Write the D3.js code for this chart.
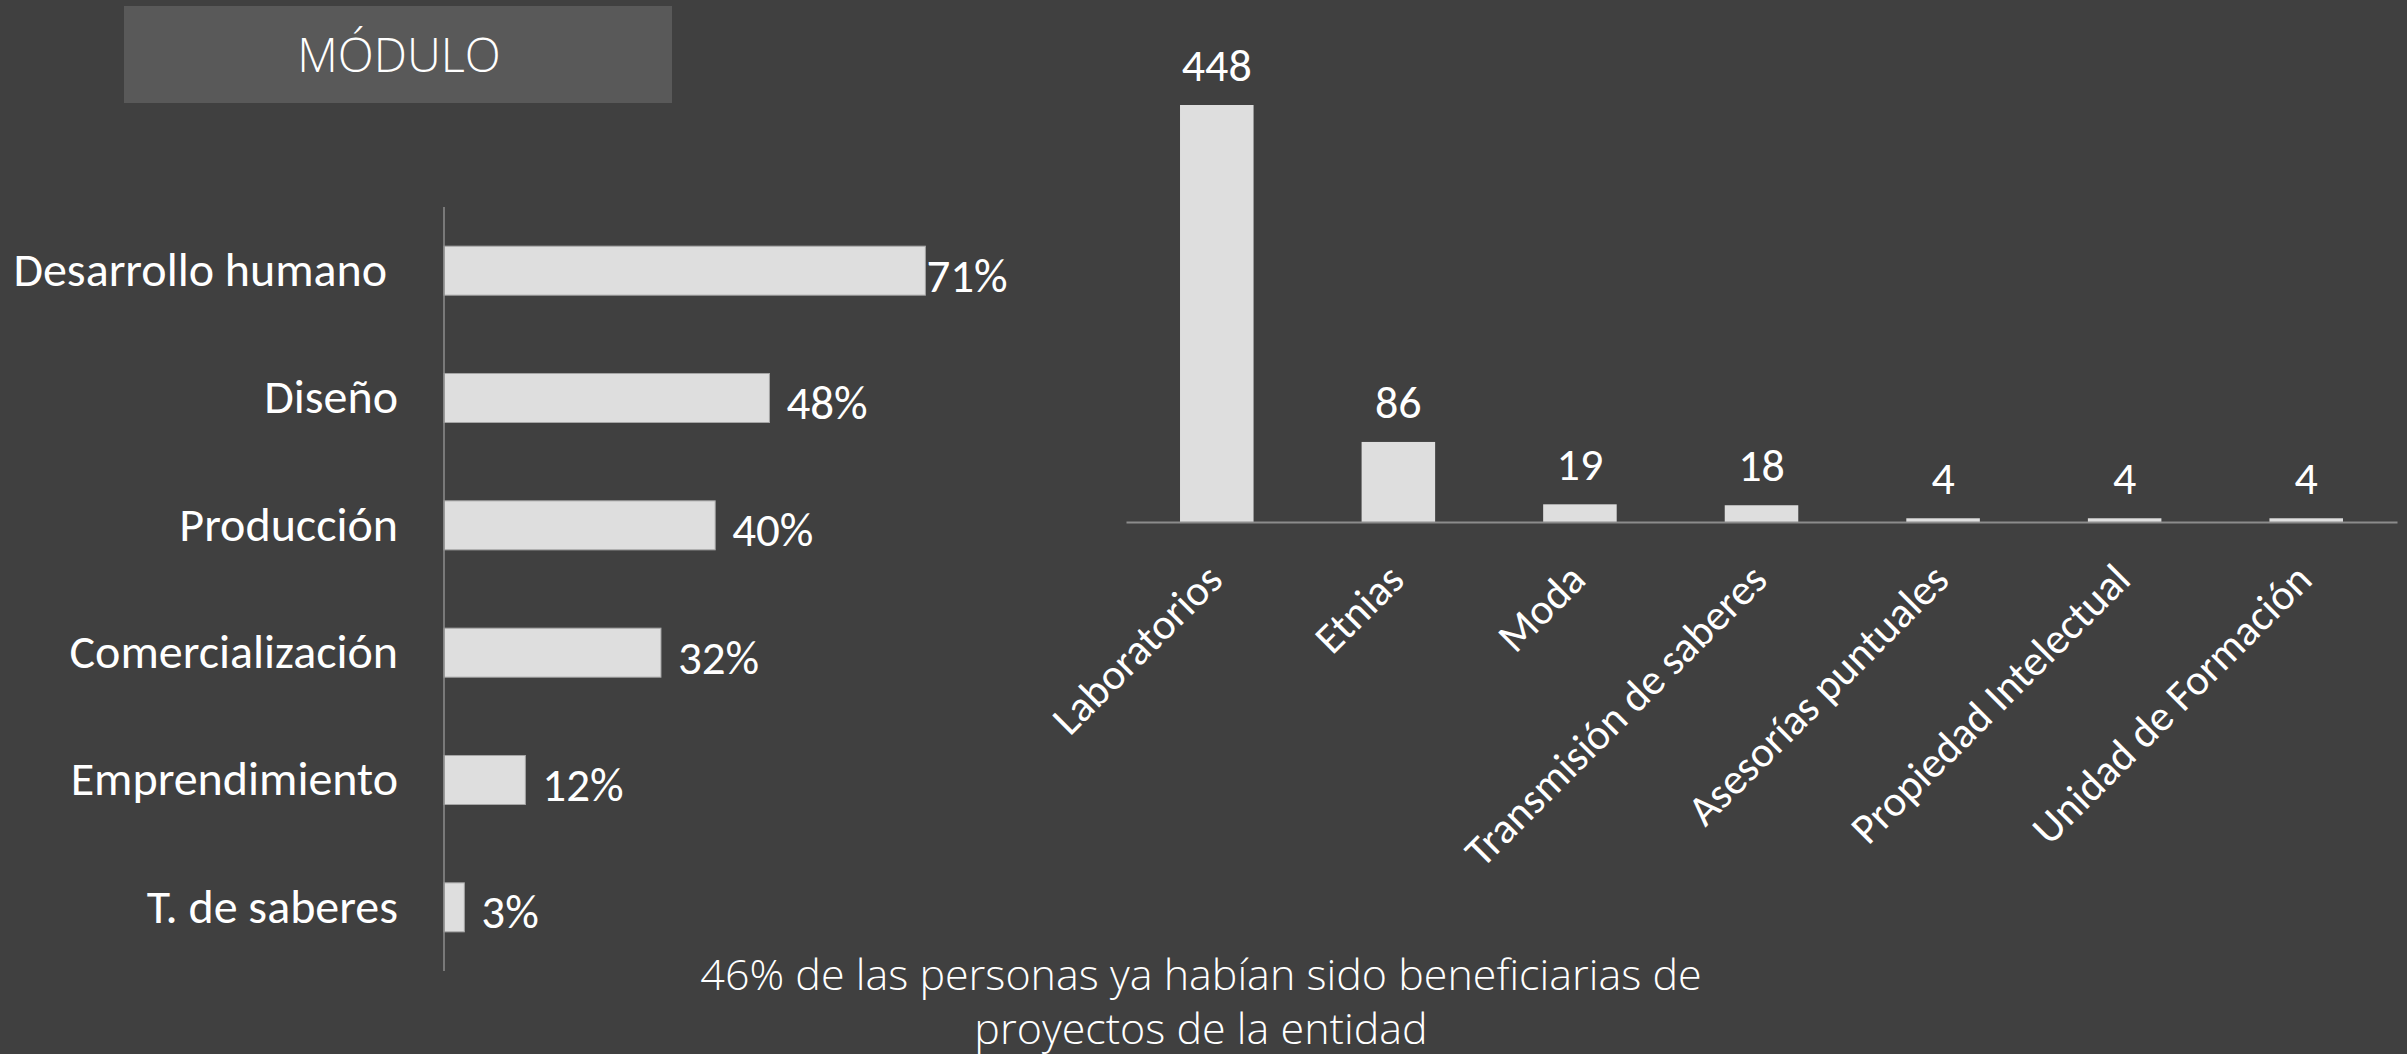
<!DOCTYPE html>
<html><head><meta charset="utf-8">
<script src="https://cdn.jsdelivr.net/npm/d3@7"></script>
<style>
html,body{margin:0;padding:0;background:#404040;}
svg{display:block;}
text{font-family:Carlito,Lato,"Open Sans",sans-serif;fill:#ffffff;}
text.light{font-family:"Open Sans",Lato,sans-serif;font-weight:300;}
</style></head>
<body>
<svg id="c" width="2407" height="1054"></svg>
<script>
const moduleCats = ["Desarrollo humano\u00a0", "Diseño", "Producción", "Comercialización", "Emprendimiento", "T. de saberes"];
const moduleVals = [0.71, 0.48, 0.40, 0.32, 0.12, 0.03];
const moduleLabels = ["71%", "48%", "40%", "32%", "12%", "3%"];

const typeCats = ["Laboratorios", "Etnias", "Moda", "Transmisión de saberes", "Asesorías puntuales", "Propiedad Intelectual", "Unidad de Formación"];
const typeVals = [448, 86, 19, 18, 4, 4, 4];

const titleText = "MÓDULO";
const noteLines = ["46% de las personas ya habían sido beneficiarias de", "proyectos de la entidad"];

const svg = d3.select("#c");
svg.append("rect").attr("width", 2407).attr("height", 1054).attr("fill", "#404040");

// Title box
svg.append("rect").attr("x", 124).attr("y", 6).attr("width", 548).attr("height", 97).attr("fill", "#595959");
svg.append("text").attr("class", "light").attr("x", 399).attr("y", 55).attr("dy", "0.36em")
  .attr("text-anchor", "middle").style("font-size", "47px")
  .text(titleText);

// Left horizontal bar chart
const xL = d3.scaleLinear().domain([0, 1]).range([444, 444 + 678]);
const yL = d3.scaleBand().domain(moduleCats).range([207, 971]).paddingInner(0.615).paddingOuter(0.3075);

const gL = svg.append("g");
gL.selectAll("rect.bar").data(moduleCats).join("rect")
  .attr("class", "bar")
  .attr("x", xL(0)).attr("y", d => yL(d))
  .attr("width", (d, i) => xL(moduleVals[i]) - xL(0))
  .attr("height", yL.bandwidth())
  .attr("fill", "#dedede").attr("stroke", "#a6a6a6").attr("stroke-width", 1);

const axL = d3.axisLeft(yL).tickSize(0).tickPadding(46);
const axLg = gL.append("g").attr("transform", `translate(${xL(0)},0)`).call(axL);
axLg.select(".domain").attr("stroke", "#8c8c8c").attr("stroke-width", 1.5).attr("d", `M0,207V971`);
axLg.selectAll("text").style("font-size", "48px").attr("fill", "#ffffff");

gL.selectAll("text.val").data(moduleCats).join("text")
  .attr("class", "val")
  .attr("x", (d, i) => xL(moduleVals[i]) + (xL(moduleVals[i]) > 900 ? 1 : 17))
  .attr("y", d => yL(d) + yL.bandwidth() / 2 + 4)
  .attr("dy", "0.36em")
  .style("font-size", "47px")
  .text((d, i) => moduleLabels[i]);

// Right vertical bar chart
const xR = d3.scaleBand().domain(typeCats).range([1126, 2397]).paddingInner(0.595).paddingOuter(0.2975);
const yR = d3.scaleLinear().domain([0, 448]).range([522, 105]);

const gR = svg.append("g");
gR.selectAll("rect.bar").data(typeCats).join("rect")
  .attr("class", "bar")
  .attr("x", d => xR(d)).attr("y", (d, i) => yR(typeVals[i]))
  .attr("width", xR.bandwidth())
  .attr("height", (d, i) => yR(0) - yR(typeVals[i]))
  .attr("fill", "#dedede");

const axR = d3.axisBottom(xR).tickSize(0).tickPadding(0);
const axRg = gR.append("g").attr("transform", `translate(0,${yR(0)})`).call(axR);
axRg.select(".domain").attr("stroke", "#8c8c8c").attr("stroke-width", 2);
axRg.selectAll(".tick text")
  .attr("text-anchor", "end")
  .attr("y", 0).attr("dy", 0)
  .attr("transform", "translate(8,60) rotate(-45)")
  .style("font-size", "43px").attr("fill", "#ffffff");

gR.selectAll("text.val").data(typeCats).join("text")
  .attr("class", "val")
  .attr("x", d => xR(d) + xR.bandwidth() / 2)
  .attr("y", (d, i) => yR(typeVals[i]) - 24)
  .attr("text-anchor", "middle")
  .style("font-size", "46px")
  .text((d, i) => typeVals[i]);

// Note
svg.append("g").selectAll("text").data(noteLines).join("text")
  .attr("class", "light")
  .attr("x", 1201).attr("y", (d, i) => 975 + i * 54).attr("dy", "0.36em")
  .attr("text-anchor", "middle").style("font-size", "43px")
  .attr("fill", "#f2f2f2")
  .text(d => d);
</script>
</body></html>
